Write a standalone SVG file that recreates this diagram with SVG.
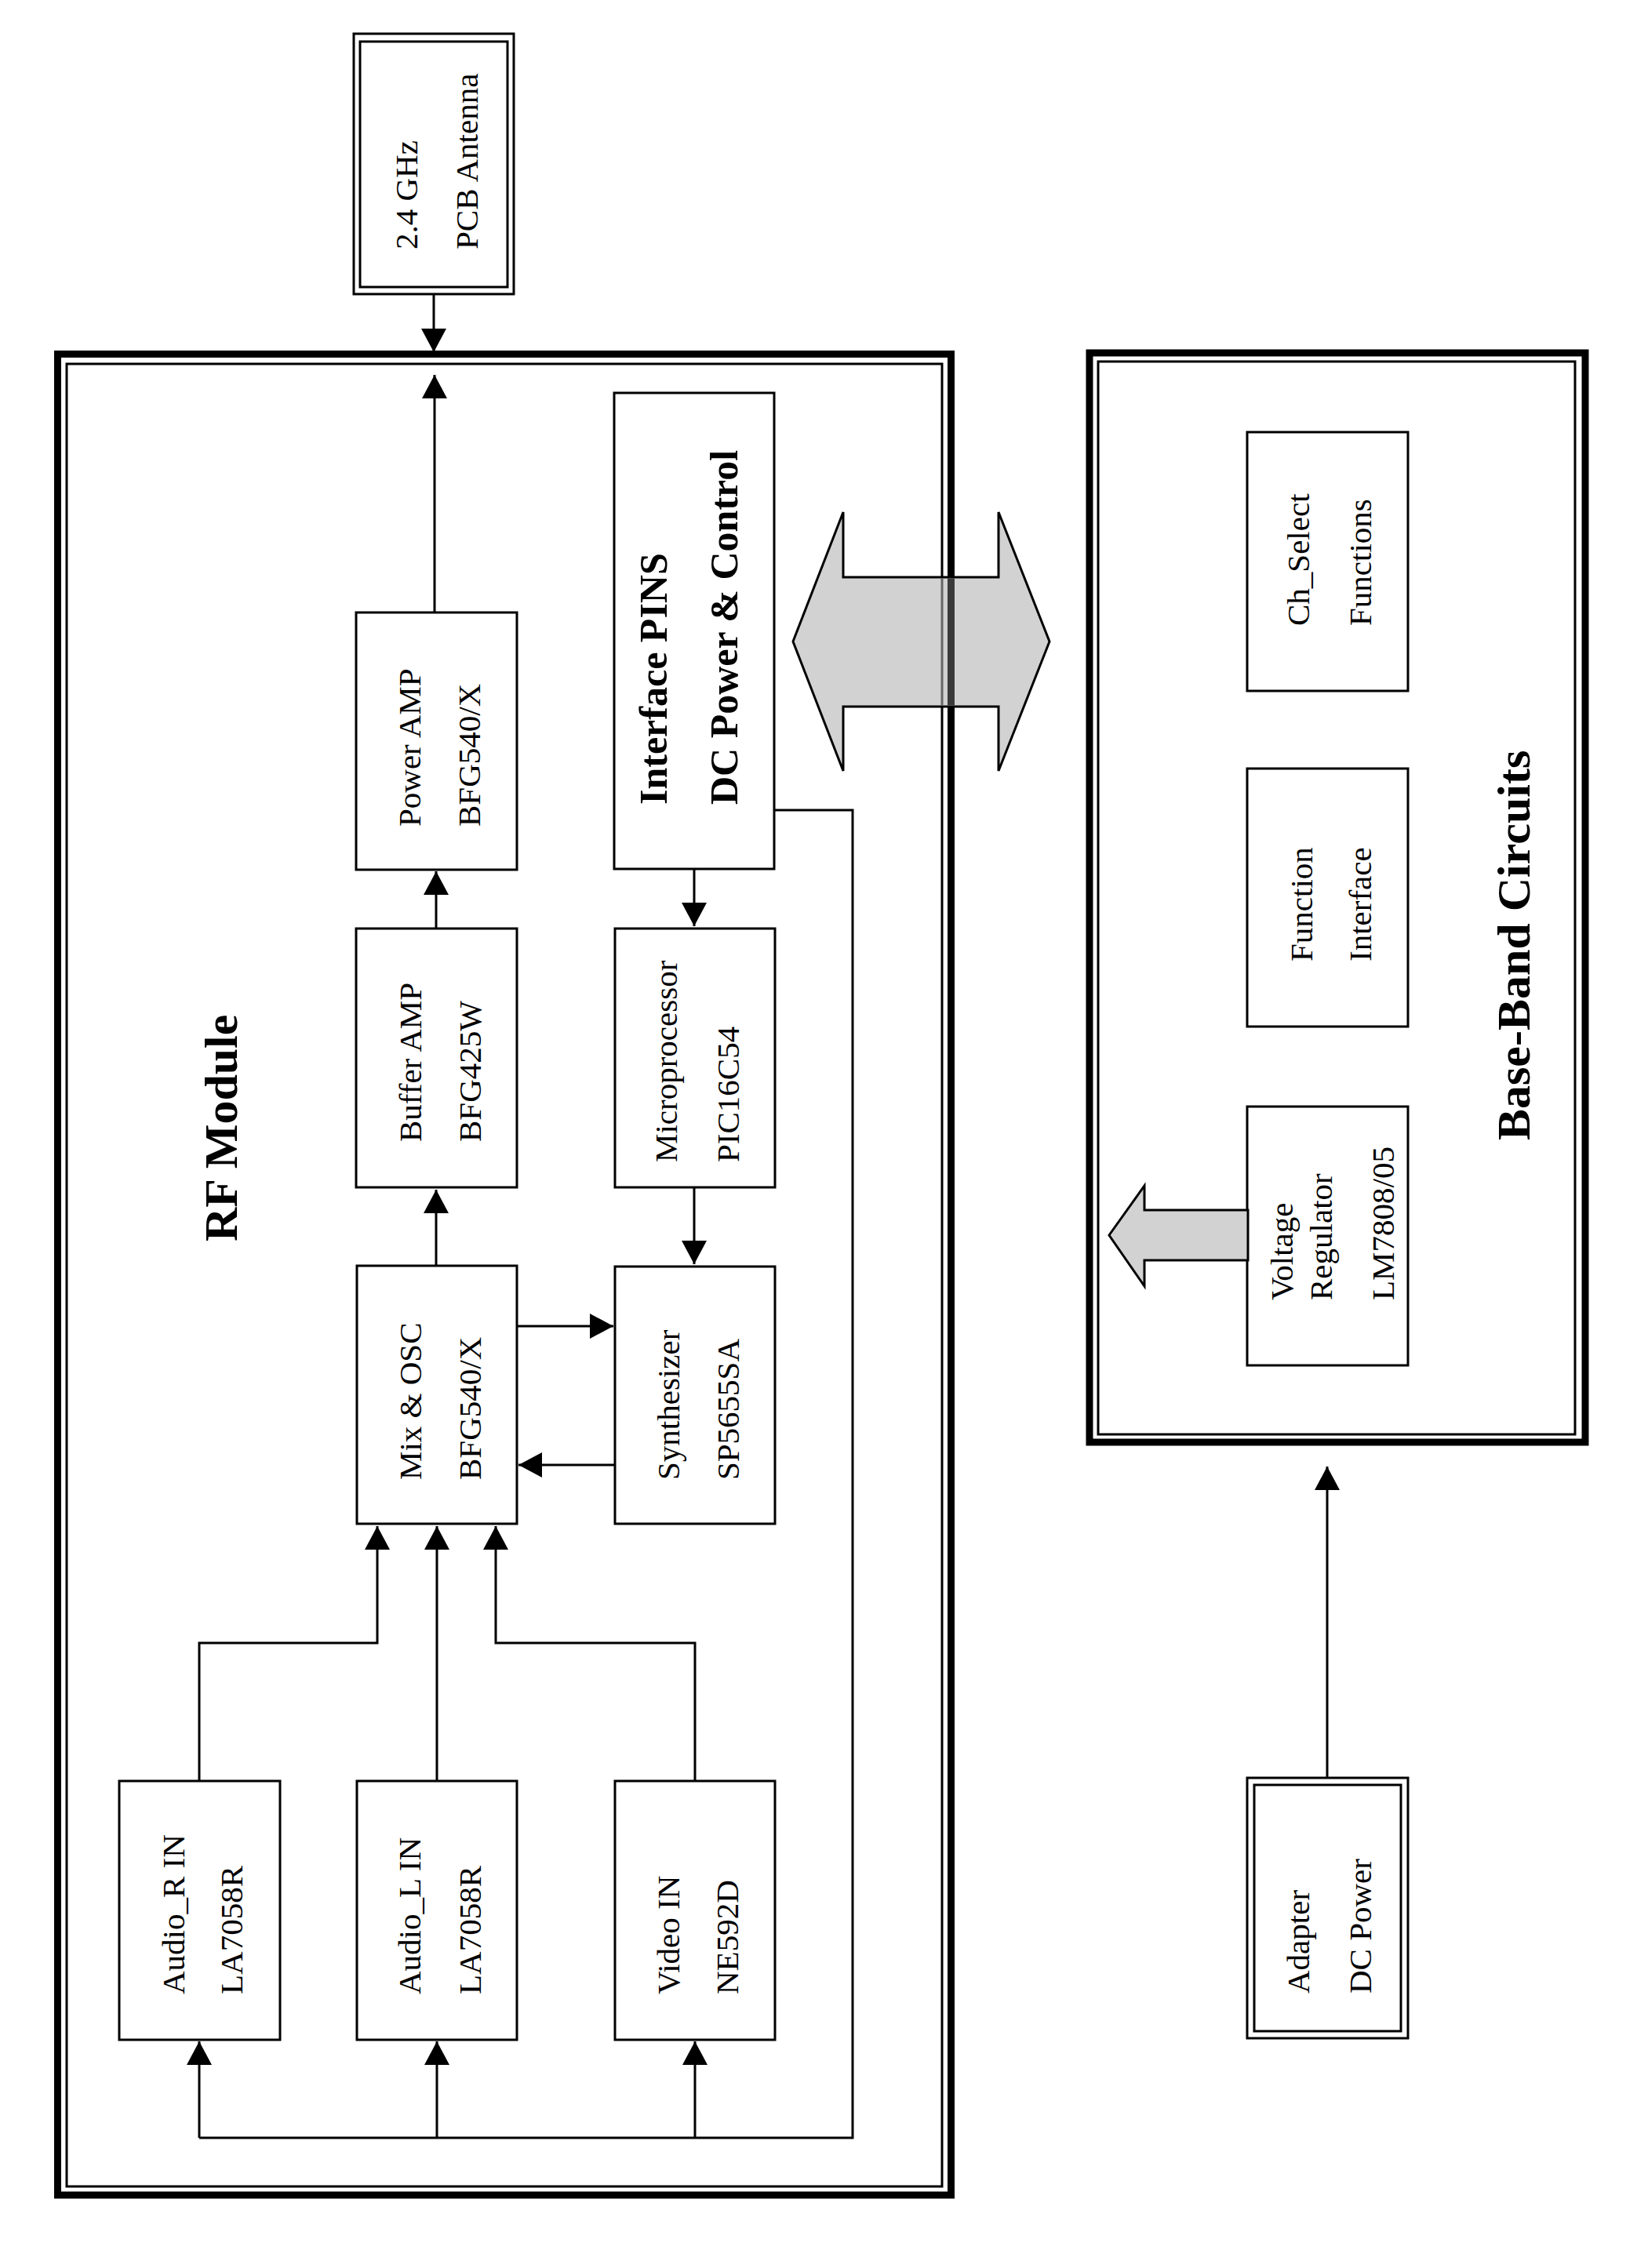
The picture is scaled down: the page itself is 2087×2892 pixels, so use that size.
<svg xmlns="http://www.w3.org/2000/svg" width="2087" height="2892" viewBox="0 0 2087 2892">
<defs>
<style>
.box{fill:#fff;stroke:#000;stroke-width:3}
.frame{fill:none;stroke:#000}
.t{font-family:"Liberation Serif","Times New Roman",serif;font-size:41px;fill:#000}
.tb{font-family:"Liberation Serif","Times New Roman",serif;font-weight:bold;fill:#000}
.ln{fill:none;stroke:#000;stroke-width:3}
.big{fill:#d2d2d2;stroke:#000;stroke-width:3;stroke-linejoin:miter}
</style>
<marker id="ah" viewBox="0 0 30 32" refX="30" refY="16" markerWidth="30" markerHeight="32" markerUnits="userSpaceOnUse" orient="auto">
<path d="M0,0 L30,16 L0,32 Z" fill="#000"/>
</marker>
</defs>
<rect width="2087" height="2892" fill="#fff"/>

<g id="rf-module">
<rect class="frame" x="73.5" y="451.5" width="1139" height="2347.5" stroke-width="9"/>
<rect class="frame" x="85" y="464" width="1116" height="2324" stroke-width="3"/>
<text class="tb" font-size="60" transform="translate(302,1583) rotate(-90)">RF Module</text>
</g>

<g id="baseband">
<rect class="frame" x="1389" y="450" width="632" height="1389" stroke-width="9"/>
<rect class="frame" x="1400" y="461" width="608" height="1368" stroke-width="3"/>
<text class="tb" font-size="60" transform="translate(1950,1454) rotate(-90)">Base-Band Circuits</text>
</g>

<g id="antenna">
<rect class="box" x="451" y="43" width="204" height="332"/>
<rect class="box" x="459" y="53" width="188" height="313"/>
<text class="t" transform="translate(532,318) rotate(-90)">2.4 GHz</text>
<text class="t" transform="translate(609,318) rotate(-90)">PCB Antenna</text>
</g>

<g id="power-amp">
<rect class="box" x="454" y="781" width="205" height="328"/>
<text class="t" transform="translate(536,1054) rotate(-90)">Power AMP</text>
<text class="t" transform="translate(612,1054) rotate(-90)">BFG540/X</text>
</g>

<g id="buffer-amp">
<rect class="box" x="454" y="1184" width="205" height="330"/>
<text class="t" transform="translate(537,1456) rotate(-90)">Buffer AMP</text>
<text class="t" transform="translate(613,1456) rotate(-90)">BFG425W</text>
</g>

<g id="mix-osc">
<rect class="box" x="455" y="1614" width="204" height="329"/>
<text class="t" transform="translate(537,1887) rotate(-90)">Mix &amp; OSC</text>
<text class="t" transform="translate(613,1887) rotate(-90)">BFG540/X</text>
</g>

<g id="interface-pins">
<rect class="box" x="783" y="501" width="204" height="607"/>
<text class="tb" font-size="50" transform="translate(850,1026) rotate(-90)">Interface PINS</text>
<text class="tb" font-size="50" transform="translate(940,1026) rotate(-90)">DC Power &amp; Control</text>
</g>

<g id="microprocessor">
<rect class="box" x="784" y="1184" width="204" height="330"/>
<text class="t" transform="translate(863,1482) rotate(-90)">Microprocessor</text>
<text class="t" transform="translate(942,1482) rotate(-90)">PIC16C54</text>
</g>

<g id="synthesizer">
<rect class="box" x="784" y="1615" width="204" height="328"/>
<text class="t" transform="translate(866,1887) rotate(-90)">Synthesizer</text>
<text class="t" transform="translate(942,1887) rotate(-90)">SP5655SA</text>
</g>

<g id="audio-r">
<rect class="box" x="152" y="2271" width="205" height="330"/>
<text class="t" transform="translate(235,2543) rotate(-90)">Audio_R IN</text>
<text class="t" transform="translate(309,2543) rotate(-90)">LA7058R</text>
</g>

<g id="audio-l">
<rect class="box" x="455" y="2271" width="204" height="330"/>
<text class="t" transform="translate(536,2543) rotate(-90)">Audio_L IN</text>
<text class="t" transform="translate(613,2543) rotate(-90)">LA7058R</text>
</g>

<g id="video-in">
<rect class="box" x="784" y="2271" width="204" height="330"/>
<text class="t" transform="translate(866,2543) rotate(-90)">Video IN</text>
<text class="t" transform="translate(941,2543) rotate(-90)">NE592D</text>
</g>

<g id="ch-select">
<rect class="box" x="1590" y="551" width="205" height="330"/>
<text class="t" transform="translate(1669,798) rotate(-90)">Ch_Select</text>
<text class="t" transform="translate(1748,798) rotate(-90)">Functions</text>
</g>

<g id="function-interface">
<rect class="box" x="1590" y="980" width="205" height="329"/>
<text class="t" transform="translate(1673,1226) rotate(-90)">Function</text>
<text class="t" transform="translate(1748,1226) rotate(-90)">Interface</text>
</g>

<g id="voltage-regulator">
<rect class="box" x="1590" y="1411" width="205" height="330"/>
<text class="t" transform="translate(1648,1658) rotate(-90)">Voltage</text>
<text class="t" transform="translate(1698,1658) rotate(-90)">Regulator</text>
<text class="t" transform="translate(1777,1658) rotate(-90)">LM7808/05</text>
</g>

<g id="adapter">
<rect class="box" x="1590" y="2267" width="205" height="332"/>
<rect class="box" x="1599" y="2276" width="187" height="314"/>
<text class="t" transform="translate(1669,2542) rotate(-90)">Adapter</text>
<text class="t" transform="translate(1748,2542) rotate(-90)">DC Power</text>
</g>

<g id="connectors">
<line class="ln" x1="553" y1="375" x2="553" y2="449" marker-end="url(#ah)"/>
<line class="ln" x1="554" y1="781" x2="554" y2="478" marker-end="url(#ah)"/>
<line class="ln" x1="556" y1="1184" x2="556" y2="1111" marker-end="url(#ah)"/>
<line class="ln" x1="556" y1="1614" x2="556" y2="1517" marker-end="url(#ah)"/>
<line class="ln" x1="885" y1="1108" x2="885" y2="1181" marker-end="url(#ah)"/>
<line class="ln" x1="885" y1="1514" x2="885" y2="1612" marker-end="url(#ah)"/>
<line class="ln" x1="659" y1="1691" x2="782" y2="1691" marker-end="url(#ah)"/>
<line class="ln" x1="784" y1="1868" x2="661" y2="1868" marker-end="url(#ah)"/>
<polyline class="ln" points="254,2271 254,2095 481,2095 481,1946" marker-end="url(#ah)"/>
<line class="ln" x1="557" y1="2271" x2="557" y2="1946" marker-end="url(#ah)"/>
<polyline class="ln" points="886,2271 886,2095 632,2095 632,1946" marker-end="url(#ah)"/>
<polyline class="ln" points="987,1033 1087,1033 1087,2726 254,2726"/>
<line class="ln" x1="254" y1="2726" x2="254" y2="2603" marker-end="url(#ah)"/>
<line class="ln" x1="557" y1="2726" x2="557" y2="2603" marker-end="url(#ah)"/>
<line class="ln" x1="886" y1="2726" x2="886" y2="2603" marker-end="url(#ah)"/>
<line class="ln" x1="1692" y1="2267" x2="1692" y2="1870" marker-end="url(#ah)"/>
<polygon class="big" points="1011,818 1075,653 1075,736 1273,736 1273,653 1338,818 1273,983 1273,901 1075,901 1075,983"/>
<rect x="1208" y="737.5" width="9" height="162" fill="#3a3a3a"/>
<rect x="1199.5" y="737.5" width="3" height="162" fill="#666"/>
<polygon class="big" points="1414,1575 1459,1512 1459,1543 1591,1543 1591,1607 1459,1607 1459,1640"/>
</g>
</svg>
